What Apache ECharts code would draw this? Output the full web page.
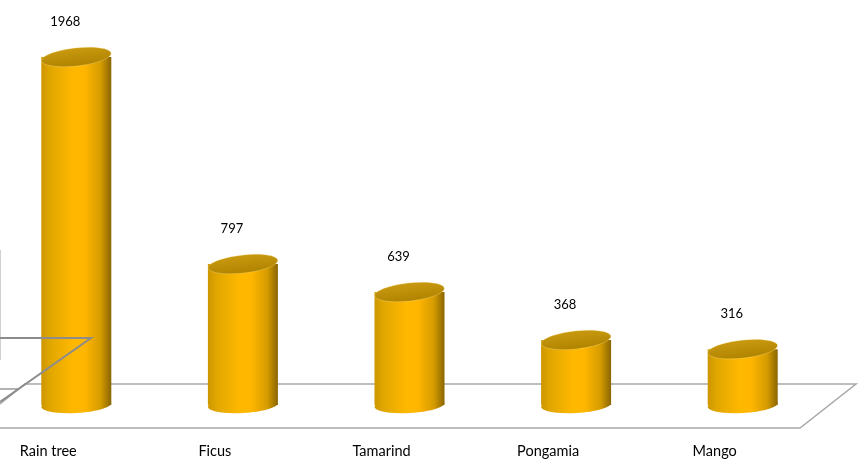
<!DOCTYPE html>
<html>
<head>
<meta charset="utf-8">
<script src="https://cdn.jsdelivr.net/npm/echarts@6/dist/echarts.min.js"></script>
<style>
html,body{margin:0;padding:0;background:#fff;}
#chart{width:861px;height:462px;}
</style>
</head>
<body>
<div id="chart"></div>
<script>
const categories = ['Rain tree', 'Ficus', 'Tamarind', 'Pongamia', 'Mango'];
const values = [1968, 797, 639, 368, 316];

const chart = echarts.init(document.getElementById('chart'), null, {renderer: 'canvas'});
const FONT = 'Lato, "Open Sans", sans-serif';

function bodyGrad() {
  return new echarts.graphic.LinearGradient(0, 0, 1, 0, [
    {offset: 0, color: '#cc9600'},
    {offset: 0.12, color: '#e0a600'},
    {offset: 0.45, color: '#ffb800'},
    {offset: 0.62, color: '#ffb600'},
    {offset: 0.85, color: '#d49b00'},
    {offset: 1, color: '#8a6500'}
  ]);
}
function topGrad() {
  return new echarts.graphic.LinearGradient(0, 0, 0, 1, [
    {offset: 0, color: '#c99a10'},
    {offset: 1, color: '#b08300'}
  ]);
}

const seriesData = categories.map((c, i) => [i, values[i]]);

chart.setOption({
  animation: false,
  grid: {left: -7, right: 35, top: 16, bottom: 57, containLabel: false, outerBoundsMode: 'none'},
  xAxis: {
    type: 'category',
    data: categories,
    axisLine: {show: false},
    axisTick: {show: false},
    axisLabel: {
      margin: 39,
      color: '#000',
      fontSize: 14.5,
      fontFamily: FONT,
      padding: [0, 56, 0, 0]
    }
  },
  yAxis: {
    type: 'value',
    min: 0,
    max: 2200,
    show: false
  },
  graphic: [
    {type: 'line', z: 0, shape: {x1: 0, y1: 250, x2: 0, y2: 360}, style: {stroke: '#d0d0d0', lineWidth: 2}},
    {type: 'polyline', z: 0, shape: {points: [[0, 404], [25, 384], [856, 384], [800, 428], [0, 428]]}, style: {stroke: '#a8a8a8', lineWidth: 1.5, fill: null}},
    {type: 'line', z: 0, shape: {x1: 0, y1: 389, x2: 19, y2: 389}, style: {stroke: '#9a9a9a', lineWidth: 1.5}},
    {type: 'polyline', z: 100, zlevel: 0, shape: {points: [[0, 338], [91, 338], [0, 402]]}, style: {stroke: '#8c8c8c', lineWidth: 2, fill: null}}
  ],
  series: [{
    type: 'custom',
    z: 2,
    data: seriesData,
    encode: {x: 0, y: 1},
    renderItem: function (params, api) {
      const v = api.value(1);
      const top = api.coord([api.value(0), v]);
      const base = api.coord([api.value(0), 0]);
      const rx = 35;
      return {
        type: 'group',
        children: [
          {type: 'ellipse', shape: {cx: base[0], cy: base[1], rx: rx, ry: 8}, rotation: 0.06, originX: base[0], originY: base[1], style: {fill: bodyGrad()}},
          {type: 'rect', shape: {x: base[0] - rx, y: top[1], width: 2 * rx, height: base[1] - top[1]}, style: {fill: bodyGrad()}},
          {type: 'ellipse', shape: {cx: top[0], cy: top[1], rx: rx, ry: 9}, rotation: 0.11, originX: top[0], originY: top[1], style: {fill: topGrad(), stroke: 'rgba(255,230,150,0.5)', lineWidth: 0.6}},
          {type: 'text', x: top[0] - 11, y: top[1] - 35, style: {text: String(v), align: 'center', verticalAlign: 'middle', font: '13px ' + FONT, fill: '#000'}}
        ]
      };
    }
  }]
});
</script>
</body>
</html>
